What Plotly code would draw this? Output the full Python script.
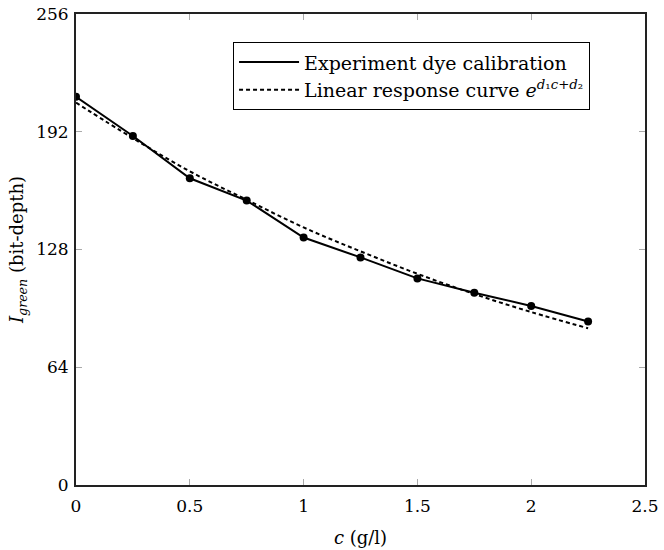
import plotly.graph_objects as go

conc = [0, 0.25, 0.5, 0.75, 1.0, 1.25, 1.5, 1.75, 2.0, 2.25]
intensity_exp = [211.0, 189.7, 166.7, 154.6, 134.5, 123.7, 112.3, 104.5, 97.3, 88.9]
intensity_fit = [207.8, 188.5, 170.5, 155.0, 140.0, 127.0, 114.8, 103.8, 94.0, 85.2]

x_ticks = [0, 0.5, 1, 1.5, 2, 2.5]
x_ticklabels = ["0", "0.5", "1", "1.5", "2", "2.5"]
y_ticks = [0, 64, 128, 192, 256]
y_ticklabels = ["0", "64", "128", "192", "256"]

FONT = "DejaVu Serif, Liberation Serif, serif"

fig = go.Figure()
fig.add_trace(go.Scatter(
    x=conc, y=intensity_exp, mode="lines",
    line=dict(color="black", width=2),
    name="Experiment dye calibration",
))
fig.add_trace(go.Scatter(
    x=conc, y=intensity_fit, mode="lines",
    line=dict(color="black", width=2, dash="4px,3px", shape="spline"),
    name="Linear response curve <i>e</i><sup><i>d</i>₁<i>c</i>+<i>d</i>₂</sup>",
))
fig.add_trace(go.Scatter(
    x=conc, y=intensity_exp, mode="markers",
    marker=dict(color="black", size=8),
    showlegend=False,
))

axis_common = dict(
    showgrid=False, zeroline=False, automargin=False,
    showline=True, linecolor="#222", linewidth=2, mirror="allticks",
    ticks="inside", ticklen=6, tickcolor="#aaa", tickwidth=1,
    tickfont=dict(family=FONT, size=17, color="black"),
)

fig.update_layout(
    width=664, height=550,
    margin=dict(l=76, r=19, t=14, b=65, autoexpand=False),
    paper_bgcolor="white", plot_bgcolor="white",
    font=dict(family=FONT, size=17, color="black"),
    xaxis=dict(
        range=[0, 2.5], tickvals=x_ticks, ticktext=x_ticklabels,
        ticklabelstandoff=5,
        title=dict(text="<i>c</i> (g/l)", font=dict(family=FONT, size=18), standoff=16),
        **axis_common,
    ),
    yaxis=dict(
        range=[0, 256], tickvals=y_ticks, ticktext=y_ticklabels,
        ticklabelstandoff=2,
        title=dict(text="<i>I</i><sub><i>green</i></sub> (bit-depth)", font=dict(family=FONT, size=18), standoff=8),
        **axis_common,
    ),
    legend=dict(
        x=0.276, y=0.94, xanchor="left", yanchor="top",
        bordercolor="black", borderwidth=1, bgcolor="white",
        font=dict(family=FONT, size=19), tracegroupgap=0,
        itemwidth=60,
    ),
    showlegend=True,
)

fig.write_html("out.html")
